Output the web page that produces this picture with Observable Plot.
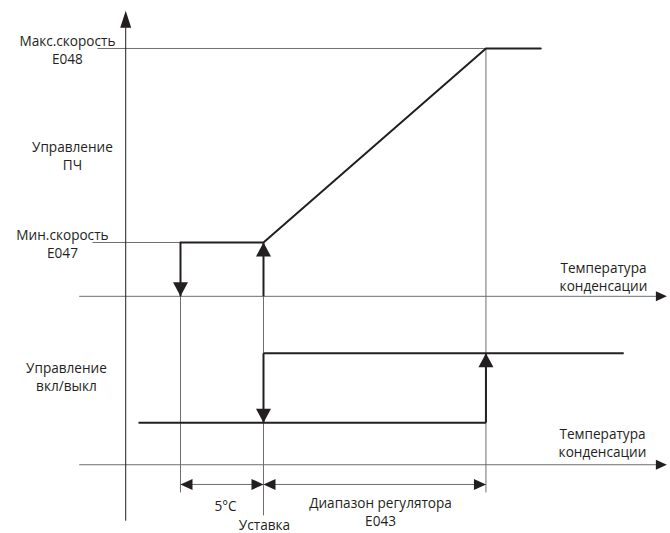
<!DOCTYPE html>
<html><head><meta charset="utf-8">
<script src="https://cdn.jsdelivr.net/npm/d3@7"></script>
<script src="https://cdn.jsdelivr.net/npm/@observablehq/plot@0.6"></script>
<style>body{margin:0;background:#fff} #chart svg{display:block}</style>
</head><body><div id="chart"></div>
<script>
// ---- Temperatures (°C, relative to the setpoint "Уставка") ----
const setpoint = 0;
const hysteresis = 5;            // 5°C below setpoint
const regulatorRange = 13.4;     // E043
const tempAxisExtent = [-11.1, 24.3];
const valueAxisTemp = -8.3;       // where the vertical axis crosses

// ---- Levels (diagram units, 0 = bottom, 100 = top) ----
const speedLevels = [54.6, 91.0];   // Мин.скорость E047, Макс.скорость E048
const onOffLevels = [20.8, 33.8];   // выкл, вкл
const tempAxisLevels = [44.5, 12.9]; // temperature axes (ПЧ panel, вкл/выкл panel)
const dimLevel = 9.2;
const valueAxisExtent = [2.4, 98.1];

// ---- Texts ----
const leftLabels = ["Макс.скорость\nE048", "Управление\nПЧ", "Мин.скорость\nE047", "Управление\nвкл/выкл"];
const axisTitle = "Температура\nконденсации";
const bottomLabels = ["5°C", "Уставка", "Диапазон регулятора\nE043"];

// ---- derived geometry ----
const tLow = setpoint - hysteresis, tHigh = setpoint + regulatorRange;
const [minSpd, maxSpd] = speedLevels;
const [offLvl, onLvl] = onOffLevels;
const [axisA, axisB] = tempAxisLevels;
const dark = "#231f20", gray = "#6d6e71";

const thinRefs = [
  {x1: -10.0, y1: maxSpd, x2: tHigh, y2: maxSpd},
  {x1: -10.3, y1: minSpd, x2: tLow, y2: minSpd},
  {x1: tLow, y1: minSpd, x2: tLow, y2: 7.7},
  {x1: setpoint, y1: minSpd, x2: setpoint, y2: 3.4},
  {x1: tHigh, y1: maxSpd, x2: tHigh, y2: 7.7},
  {x1: tempAxisExtent[0], y1: axisA, x2: tempAxisExtent[1] - 0.3, y2: axisA},
  {x1: tempAxisExtent[0], y1: axisB, x2: tempAxisExtent[1] - 0.3, y2: axisB},
  {x1: tLow, y1: dimLevel, x2: tHigh, y2: dimLevel}
];
const fcCurve = [
  {x: tLow, y: minSpd}, {x: setpoint, y: minSpd}, {x: tHigh, y: maxSpd}, {x: 16.7, y: maxSpd}
];
const thickSegs = [
  {x1: tLow, y1: minSpd, x2: tLow, y2: axisA},
  {x1: setpoint, y1: axisA, x2: setpoint, y2: minSpd},
  {x1: -7.53, y1: offLvl, x2: tHigh, y2: offLvl},
  {x1: tHigh, y1: offLvl, x2: tHigh, y2: onLvl},
  {x1: setpoint, y1: onLvl, x2: 21.7, y2: onLvl},
  {x1: setpoint, y1: onLvl, x2: setpoint, y2: offLvl}
];
const transitionHeads = [
  {x: tLow, y: axisA, r: 180},
  {x: setpoint, y: minSpd, r: 0},
  {x: tHigh, y: onLvl, r: 0},
  {x: setpoint, y: offLvl, r: 180}
];
const axisHeads = [
  {x: tempAxisExtent[1], y: axisA, r: 90},
  {x: tempAxisExtent[1], y: axisB, r: 90}
];
const dimHeads = [
  {x: tLow, y: dimLevel, r: -90},
  {x: setpoint, y: dimLevel, r: 90},
  {x: setpoint, y: dimLevel, r: -90},
  {x: tHigh, y: dimLevel, r: 90}
];
const tri = {draw(ctx, l, r) { ctx.moveTo(0, -l); ctx.lineTo(r, 0); ctx.lineTo(-r, 0); ctx.closePath(); }};

const textRows = [
  {t: leftLabels[0], x: -11.81, y: 90.8},
  {t: leftLabels[1], x: -11.51, y: 71.0},
  {t: leftLabels[2], x: -12.11, y: 54.4},
  {t: leftLabels[3], x: -11.87, y: 29.5},
  {t: axisTitle, x: 20.48, y: 48.2},
  {t: axisTitle, x: 20.42, y: 17.1},
  {t: bottomLabels[0], x: -2.29, y: 5.25},
  {t: bottomLabels[1], x: 0.06, y: 1.75},
  {t: bottomLabels[2], x: 7.05, y: 4.1}
];

const chart = Plot.plot({
  width: 670, height: 533, margin: 0,
  x: {domain: [-15.843, 24.518], axis: null},
  y: {domain: [0, 100], axis: null},
  style: {fontFamily: "'Open Sans', sans-serif", background: "#fff"},
  marks: [
    Plot.link(thinRefs, {x1: "x1", y1: "y1", x2: "x2", y2: "y2", stroke: gray, strokeWidth: 1}),
    Plot.link([{x1: valueAxisTemp, y1: valueAxisExtent[0], x2: valueAxisTemp, y2: valueAxisExtent[1] - 2}],
      {x1: "x1", y1: "y1", x2: "x2", y2: "y2", stroke: dark, strokeWidth: 1}),
    Plot.line(fcCurve, {x: "x", y: "y", stroke: dark, strokeWidth: 2}),
    Plot.link(thickSegs, {x1: "x1", y1: "y1", x2: "x2", y2: "y2", stroke: dark, strokeWidth: 2}),
    Plot.vector(transitionHeads, {x: "x", y: "y", rotate: "r", length: 14, r: 7.5, anchor: "end", shape: tri, fill: dark, stroke: "none"}),
    Plot.vector(axisHeads, {x: "x", y: "y", rotate: "r", length: 11, r: 5, anchor: "end", shape: tri, fill: dark, stroke: "none"}),
    Plot.vector(dimHeads, {x: "x", y: "y", rotate: "r", length: 12, r: 5.5, anchor: "end", shape: tri, fill: dark, stroke: "none"}),
    Plot.vector([{x: valueAxisTemp, y: valueAxisExtent[1]}], {x: "x", y: "y", length: 17, r: 5.5, anchor: "end", shape: tri, fill: dark, stroke: "none"}),
    Plot.text(textRows, {x: "x", y: "y", text: "t", fontSize: 13.6, lineHeight: 1.33, fill: dark, lineAnchor: "middle"})
  ]
});
document.getElementById("chart").append(chart);
</script></body></html>
